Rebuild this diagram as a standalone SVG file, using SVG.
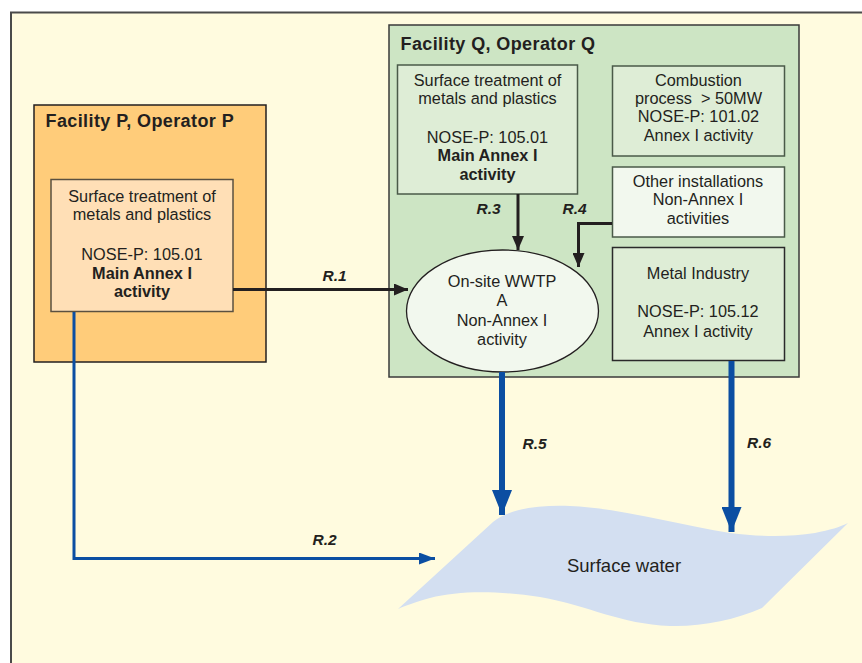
<svg xmlns="http://www.w3.org/2000/svg" width="862" height="663" viewBox="0 0 862 663">
<defs>
<style>
.t{font-family:"Liberation Sans",Arial,sans-serif;font-size:16.3px;fill:#231f20;text-anchor:middle}
.b{font-weight:bold}
.title{font-family:"Liberation Sans",Arial,sans-serif;font-size:18px;font-weight:bold;fill:#231f20;letter-spacing:0.4px}
.lbl{font-family:"Liberation Sans",Arial,sans-serif;font-size:15.5px;font-weight:bold;font-style:italic;fill:#231f20}
.blk{fill:none;stroke:#231f20;stroke-width:3}
.blue{fill:none;stroke:#0b4ea2}
</style>
<marker id="ah" markerWidth="14" markerHeight="12" refX="14" refY="6" orient="auto" markerUnits="userSpaceOnUse">
<path d="M0,0 L14,6 L0,12 Z" fill="#231f20"/>
</marker>
<marker id="ahb" markerWidth="16" markerHeight="12" refX="16" refY="6" orient="auto" markerUnits="userSpaceOnUse">
<path d="M0,0 L16,6 L0,12 Z" fill="#0b4ea2"/>
</marker>
<marker id="ahB" markerWidth="25" markerHeight="20" refX="25" refY="10" orient="auto" markerUnits="userSpaceOnUse">
<path d="M0,0 L25,10 L0,20 Z" fill="#0b4ea2"/>
</marker>
</defs>
<rect x="0" y="0" width="862" height="663" fill="#ffffff"/>
<rect x="11" y="12.5" width="870" height="680" fill="#fffbdf" stroke="#4a4a4a" stroke-width="2"/>

<g id="facilityP">
<rect x="34" y="105" width="232" height="257" fill="#ffcc7a" stroke="#231f20" stroke-width="1.5"/>
<text class="title" x="45.5" y="127">Facility P, Operator P</text>
</g>
<g id="surfaceP">
<rect x="51" y="179.5" width="182" height="132" fill="#ffdfb6" stroke="#5a5040" stroke-width="1.5"/>
<text class="t" x="142" y="201.5">Surface treatment of</text>
<text class="t" x="142" y="220">metals and plastics</text>
<text class="t" x="142" y="260">NOSE-P: 105.01</text>
<text class="t b" x="142" y="278.5">Main Annex I</text>
<text class="t b" x="142" y="297">activity</text>
</g>

<g id="facilityQ">
<rect x="389" y="25" width="410" height="352" fill="#cde5c4" stroke="#3a3a3a" stroke-width="1.5"/>
<text class="title" x="400.5" y="49.5">Facility Q, Operator Q</text>
</g>
<g id="surfaceQ">
<rect x="397.5" y="65" width="180" height="129" fill="#deedd6" stroke="#4a5a48" stroke-width="1.5"/>
<text class="t" x="487.5" y="85.5">Surface treatment of</text>
<text class="t" x="487.5" y="103.5">metals and plastics</text>
<text class="t" x="487.5" y="142.5">NOSE-P: 105.01</text>
<text class="t b" x="487.5" y="161">Main Annex I</text>
<text class="t b" x="487.5" y="180">activity</text>
</g>
<g id="combustion">
<rect x="612.5" y="66" width="172" height="90" fill="#deedd6" stroke="#4a5a48" stroke-width="1.5"/>
<text class="t" x="698.5" y="85.5">Combustion</text>
<text class="t" x="698.5" y="103.5" xml:space="preserve">process  &gt; 50MW</text>
<text class="t" x="698.5" y="122">NOSE-P: 101.02</text>
<text class="t" x="698.5" y="140.5">Annex I activity</text>
</g>
<g id="other">
<rect x="612.5" y="167" width="172" height="70" fill="#f2f8ee" stroke="#4a5a48" stroke-width="1.5"/>
<text class="t" x="698" y="186.5">Other installations</text>
<text class="t" x="698" y="205">Non-Annex I</text>
<text class="t" x="698" y="224">activities</text>
</g>
<g id="metal">
<rect x="612.5" y="247.5" width="172" height="113" fill="#deedd6" stroke="#2a2a2a" stroke-width="1.5"/>
<text class="t" x="698" y="279">Metal Industry</text>
<text class="t" x="698" y="317">NOSE-P: 105.12</text>
<text class="t" x="698" y="336.5">Annex I activity</text>
</g>
<g id="wwtp">
<ellipse cx="502.5" cy="311" rx="96" ry="61" fill="#f2f8ee" stroke="#231f20" stroke-width="1.3"/>
<text class="t" x="502" y="286.5">On-site WWTP</text>
<text class="t" x="502" y="306">A</text>
<text class="t" x="502" y="325.5">Non-Annex I</text>
<text class="t" x="502" y="345">activity</text>
</g>
<g id="water">
<path d="M398,609 L493,522 C510,508 540,505 570,506 C620,508 680,525 730,533 C760,537 790,537 815,533 C830,530 840,527 848,523 L762,608 C735,620 700,627 670,626 C620,624 590,606 540,597 C500,591 460,590 430,598 C415,602 405,606 398,609 Z" fill="#d3dff1"/>
<text class="t" x="624" y="572" style="font-size:18.5px">Surface water</text>
</g>

<g id="connectors">
<path class="blk" d="M233,289.5 L408,289.5" marker-end="url(#ah)"/>
<path class="blk" d="M518,194 L518,250" marker-end="url(#ah)"/>
<path class="blk" d="M612,223.5 L578.5,223.5 L578.5,267" marker-end="url(#ah)"/>
<path class="blue" stroke-width="3" d="M74,312 L74,558.5 L435,558.5" marker-end="url(#ahb)"/>
<path class="blue" stroke-width="6" d="M502,372 L502,515" marker-end="url(#ahB)"/>
<path class="blue" stroke-width="6" d="M731.5,361 L731.5,532" marker-end="url(#ahB)"/>
<text class="lbl" x="322.5" y="281">R.1</text>
<text class="lbl" x="312.5" y="545">R.2</text>
<text class="lbl" x="476.5" y="214">R.3</text>
<text class="lbl" x="562.5" y="214">R.4</text>
<text class="lbl" x="522.5" y="448.5">R.5</text>
<text class="lbl" x="747" y="447.5">R.6</text>
</g>
</svg>
